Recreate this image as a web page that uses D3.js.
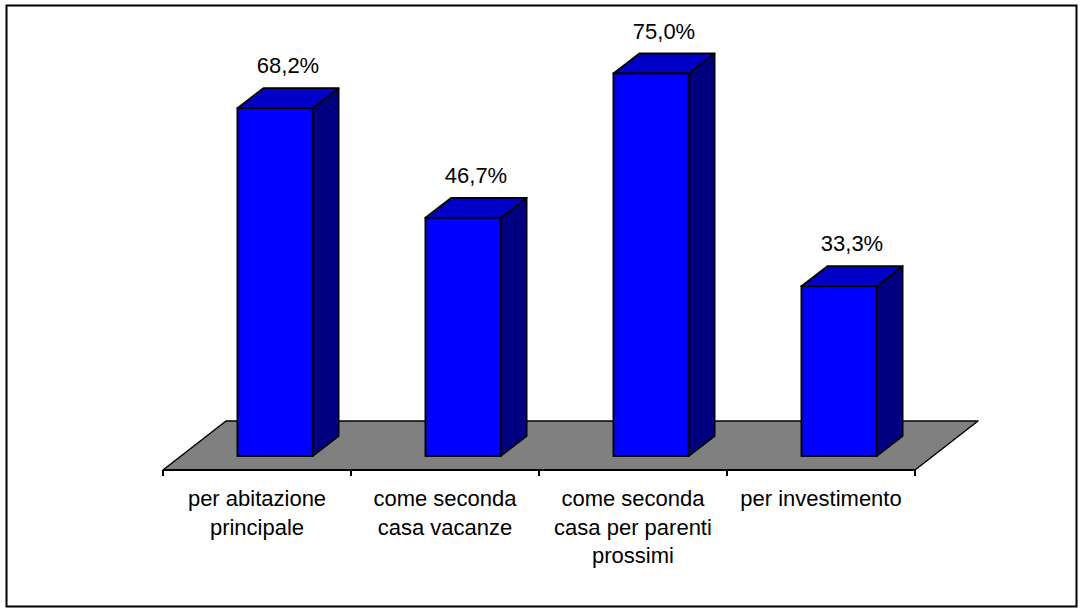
<!DOCTYPE html>
<html>
<head>
<meta charset="utf-8">
<script src="https://cdn.jsdelivr.net/npm/d3@7"></script>
<style>
  html, body { margin: 0; padding: 0; background: #fff; }
  svg { display: block; }
  text { font-family: "Liberation Sans", Arial, sans-serif; fill: #000; }
</style>
</head>
<body>
<svg id="chart" width="1084" height="614"></svg>
<script>
// Categories and values (percent)
const categories = [
  "per abitazione principale",
  "come seconda casa vacanze",
  "come seconda casa per parenti prossimi",
  "per investimento"
];
const values = [68.2, 46.7, 75.0, 33.3];
const valueLabels = ["68,2%", "46,7%", "75,0%", "33,3%"];

const svg = d3.select("#chart");

// Outer frame
svg.append("rect")
  .attr("x", 6.5).attr("y", 5.5)
  .attr("width", 1070).attr("height", 601)
  .attr("fill", "#fff").attr("stroke", "#000").attr("stroke-width", 2);

// Floor front edge and depth of the 3D floor
const floorY = 470;
const floorDX = 63, floorDY = 49;
// Bars stand partway back on the floor
const barShiftX = 18, barShiftY = 14;
const barDX = 26, barDY = 20;

const x = d3.scaleBand().domain(categories).range([163, 915]).padding(0);
const y = d3.scaleLinear().domain([0, 80]).range([floorY - barShiftY, floorY - barShiftY - 408]);

const x0 = x.range()[0], x1 = x.range()[1];

// Floor
svg.append("path")
  .attr("d", d3.line()([
    [x0, floorY], [x1, floorY],
    [x1 + floorDX, floorY - floorDY], [x0 + floorDX, floorY - floorDY]
  ]) + "Z")
  .attr("fill", "#808080").attr("stroke", "#000").attr("stroke-width", 1.5)
  .attr("stroke-linejoin", "round");

// Category axis: boundary ticks along the floor front edge
const axisG = svg.append("g").attr("transform", `translate(0,${floorY})`);
axisG.append("line")
  .attr("x1", x0).attr("x2", x1).attr("y1", 0).attr("y2", 0)
  .attr("stroke", "#000").attr("stroke-width", 2);
const bounds = categories.map(c => x(c)).concat([x1]);
axisG.selectAll("line.tick").data(bounds).join("line")
  .attr("class", "tick")
  .attr("x1", d => d).attr("x2", d => d)
  .attr("y1", 0).attr("y2", 6)
  .attr("stroke", "#000").attr("stroke-width", 2);

// Category labels, wrapped to the band width
const barW = x.bandwidth() * 0.4;
function wrapWords(str, maxW, ctx) {
  const words = str.split(" ");
  const lines = [];
  let line = "";
  words.forEach(w => {
    const test = line ? line + " " + w : w;
    if (ctx.measureText(test).width > maxW && line) { lines.push(line); line = w; }
    else line = test;
  });
  if (line) lines.push(line);
  return lines;
}
const ctx = document.createElement("canvas").getContext("2d");
ctx.font = '22px "Liberation Sans", Arial, sans-serif';

const labelG = axisG.selectAll("text.cat").data(categories).join("text")
  .attr("class", "cat")
  .attr("text-anchor", "middle")
  .attr("font-size", 22)
  .attr("x", d => x(d) + x.bandwidth() / 2)
  .attr("y", 36);
labelG.each(function(d) {
  const lines = wrapWords(d, 180, ctx);
  const t = d3.select(this);
  lines.forEach((ln, i) => {
    t.append("tspan")
      .attr("x", x(d) + x.bandwidth() / 2)
      .attr("dy", i === 0 ? 0 : 28.5)
      .text(ln);
  });
});

// Bars as 3D boxes
const bars = svg.append("g").selectAll("g.bar").data(categories).join("g").attr("class", "bar");
bars.each(function(c, i) {
  const g = d3.select(this);
  const bx = x(c) + (x.bandwidth() - barW) / 2 + barShiftX;
  const yb = y(0), yt = y(values[i]);
  const line = d3.line();
  // side face
  g.append("path")
    .attr("d", line([[bx + barW, yt], [bx + barW + barDX, yt - barDY], [bx + barW + barDX, yb - barDY], [bx + barW, yb]]) + "Z")
    .attr("fill", "#000080").attr("stroke", "#000").attr("stroke-width", 1.8).attr("stroke-linejoin", "round");
  // top face
  g.append("path")
    .attr("d", line([[bx, yt], [bx + barW, yt], [bx + barW + barDX, yt - barDY], [bx + barDX, yt - barDY]]) + "Z")
    .attr("fill", "#0000C8").attr("stroke", "#000").attr("stroke-width", 1.8).attr("stroke-linejoin", "round");
  // front face
  g.append("rect")
    .attr("x", bx).attr("y", yt).attr("width", barW).attr("height", yb - yt)
    .attr("fill", "#0000FF").attr("stroke", "#000").attr("stroke-width", 1.8);
  // value label
  g.append("text")
    .attr("text-anchor", "middle")
    .attr("font-size", 22)
    .attr("x", bx + (barW + barDX) / 2)
    .attr("y", yt - 35)
    .text(valueLabels[i]);
});
</script>
</body>
</html>
